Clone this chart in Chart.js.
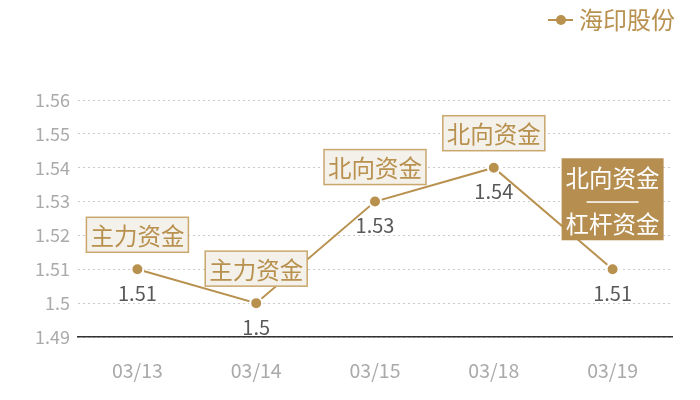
<!DOCTYPE html>
<html>
<head>
<meta charset="utf-8">
<script src="https://cdn.jsdelivr.net/npm/chart.js@4"></script>
<style>
  html, body { margin: 0; padding: 0; background: #fff; }
  #wrap { width: 700px; height: 400px; }
</style>
</head>
<body>
<div id="wrap"><canvas id="chart" width="700" height="400"></canvas></div>
<script>
// Data
const dates = ["03/13", "03/14", "03/15", "03/18", "03/19"];
const prices = [1.51, 1.5, 1.53, 1.54, 1.51];
const tags = [["主力资金"], ["主力资金"], ["北向资金"], ["北向资金"], ["北向资金", "杠杆资金"]];
const seriesName = "海印股份";

const gold = "#b8914f";
const font = "'Noto Sans CJK SC', 'Microsoft YaHei', sans-serif";

// Draw the tag boxes, value labels and the legend
const tagPlugin = {
    id: "tags",
    afterDatasetsDraw(chart) {
        const ctx = chart.ctx;
        const meta = chart.getDatasetMeta(0);
        ctx.save();
        meta.data.forEach((pt, i) => {
            const x = pt.x, y = pt.y;
            // value under the point
            ctx.font = "20px " + font;
            ctx.fillStyle = "#595959";
            ctx.textAlign = "center";
            ctx.textBaseline = "middle";
            ctx.fillText(String(prices[i]), x, y + 24);

            const lines = tags[i];
            ctx.font = "23.5px " + font;
            const w = 102;
            if (lines.length === 1) {
                const h = 35;
                const bx = x - w / 2, by = y - 17 - h;
                ctx.fillStyle = "#f4f0ea";
                ctx.fillRect(bx, by, w, h);
                ctx.strokeStyle = "#c9a76d";
                ctx.lineWidth = 1.5;
                ctx.strokeRect(bx, by, w, h);
                ctx.fillStyle = gold;
                ctx.fillText(lines[0], x, by + h / 2 + 1);
            } else {
                const h = 82;
                const bx = x - w / 2, by = y - 29 - h;
                ctx.fillStyle = "#b58e50";
                ctx.fillRect(bx, by, w, h);
                ctx.fillStyle = "#ffffff";
                ctx.fillText(lines[0], x, by + 20);
                ctx.fillRect(x - 26, by + 43, 52, 1.5);
                ctx.fillText(lines[1], x, by + 66);
            }
        });

        // legend
        ctx.strokeStyle = gold;
        ctx.lineWidth = 2;
        ctx.beginPath();
        ctx.moveTo(548, 20);
        ctx.lineTo(573, 20);
        ctx.stroke();
        ctx.fillStyle = gold;
        ctx.beginPath();
        ctx.arc(561, 20, 5, 0, Math.PI * 2);
        ctx.fill();
        ctx.font = "24px " + font;
        ctx.textAlign = "left";
        ctx.textBaseline = "middle";
        ctx.fillText(seriesName, 579, 20);
        ctx.restore();
    }
};

new Chart("chart", {
    type: "line",
    data: {
        labels: dates,
        datasets: [{
            label: seriesName,
            data: prices,
            borderColor: gold,
            borderWidth: 2,
            pointBackgroundColor: gold,
            pointBorderColor: "#ffffff",
            pointBorderWidth: 2,
            pointRadius: 6,
            tension: 0,
        }],
    },
    options: {
        responsive: false,
        animation: false,
        layout: {
            padding: { top: 100, right: 28, bottom: 0, left: 0 },
        },
        plugins: {
            legend: { display: false },
            tooltip: { enabled: false },
        },
        scales: {
            x: {
                offset: true,
                grid: { display: false, drawTicks: false, offset: true },
                border: { display: true, color: "#333333", width: 1.5 },
                ticks: {
                    color: "#aaaaaa",
                    padding: 22,
                    font: { size: 19.5, family: font },
                },
                afterFit(scale) { scale.height = 63; },
            },
            y: {
                min: 1.49,
                max: 1.56,
                grid: {
                    color: "#cccccc",
                    drawTicks: false,
                },
                border: { display: false, dash: [2, 3] },
                ticks: {
                    stepSize: 0.01,
                    color: "#aaaaaa",
                    padding: 8,
                    font: { size: 18, family: font },
                    callback: v => String(parseFloat(v.toFixed(2))),
                },
                afterFit(scale) { scale.width = 78; },
            },
        },
    },
    plugins: [tagPlugin],
});
</script>
</body>
</html>
